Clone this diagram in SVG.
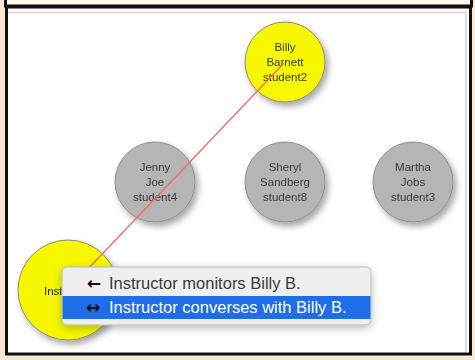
<svg xmlns="http://www.w3.org/2000/svg" width="475" height="360" viewBox="0 0 475 360">
<defs>
<filter id="sh" x="-30%" y="-30%" width="160%" height="160%">
<feDropShadow dx="3" dy="4" stdDeviation="3" flood-color="#000" flood-opacity="0.35"/>
</filter>
<filter id="msh" x="-10%" y="-30%" width="120%" height="160%">
<feDropShadow dx="0" dy="3" stdDeviation="4" flood-color="#000" flood-opacity="0.25"/>
</filter>
</defs>
<style>
.yel{fill:#f7f700;stroke:#8a8a7a;stroke-width:1}
.gry{fill:#b5b5b5;stroke:#8f8f8f;stroke-width:1}
.lbl{font-family:"Liberation Sans",Arial,sans-serif;font-size:11.5px;fill:#3a3a3a;text-anchor:middle}
.mt{font-family:"Liberation Sans",Arial,sans-serif;font-size:16.5px}
.ar{font-family:"DejaVu Sans",sans-serif;font-size:17px;font-weight:bold;fill:#111}
</style>
<rect x="0" y="0" width="475" height="360" fill="#fbe8d2"/>
<rect x="5.5" y="-4" width="466" height="10" fill="#fdf8ec" stroke="#111" stroke-width="3"/>
<rect x="6.5" y="7" width="464" height="347" fill="#ffffff" stroke="#111" stroke-width="3"/>
<path d="M8 12.5 H466 V352" fill="none" stroke="#dcdcdc" stroke-width="2"/>

<g id="node-billy" filter="url(#sh)">
<circle class="yel" cx="285" cy="62" r="40"/>
<text class="lbl" x="285" y="51">Billy</text>
<text class="lbl" x="285" y="66">Barnett</text>
<text class="lbl" x="285" y="81">student2</text>
</g>
<g id="node-jenny" filter="url(#sh)">
<circle class="gry" cx="155" cy="182" r="40"/>
<text class="lbl" x="155" y="171">Jenny</text>
<text class="lbl" x="155" y="186">Joe</text>
<text class="lbl" x="155" y="201">student4</text>
</g>
<g id="node-sheryl" filter="url(#sh)">
<circle class="gry" cx="285" cy="182" r="40"/>
<text class="lbl" x="285" y="171">Sheryl</text>
<text class="lbl" x="285" y="186">Sandberg</text>
<text class="lbl" x="285" y="201">student8</text>
</g>
<g id="node-martha" filter="url(#sh)">
<circle class="gry" cx="413" cy="182" r="40"/>
<text class="lbl" x="413" y="171">Martha</text>
<text class="lbl" x="413" y="186">Jobs</text>
<text class="lbl" x="413" y="201">student3</text>
</g>
<g id="node-instructor" filter="url(#sh)">
<circle class="yel" cx="68" cy="290" r="50"/>
<text class="lbl" x="68" y="295" style="fill:#222">Instructor</text>
</g>

<g id="connectors">
<line x1="68" y1="290" x2="284" y2="63" stroke="#f26a6a" stroke-width="1.3"/>
</g>

<g id="menu">
<rect x="62" y="267" width="309" height="58" rx="5" fill="#efefef" stroke="#b8b8b8" stroke-width="1" filter="url(#msh)"/>
<rect x="62.5" y="296" width="308" height="23" fill="#1d6ee8"/>
<text class="ar" x="87" y="289">←</text>
<text class="mt" x="109" y="289" fill="#3a3a3a">Instructor monitors Billy B.</text>
<text class="ar" x="86" y="313">↔</text>
<text class="mt" x="109" y="313" fill="#ffffff">Instructor converses with Billy B.</text>
</g>
</svg>
